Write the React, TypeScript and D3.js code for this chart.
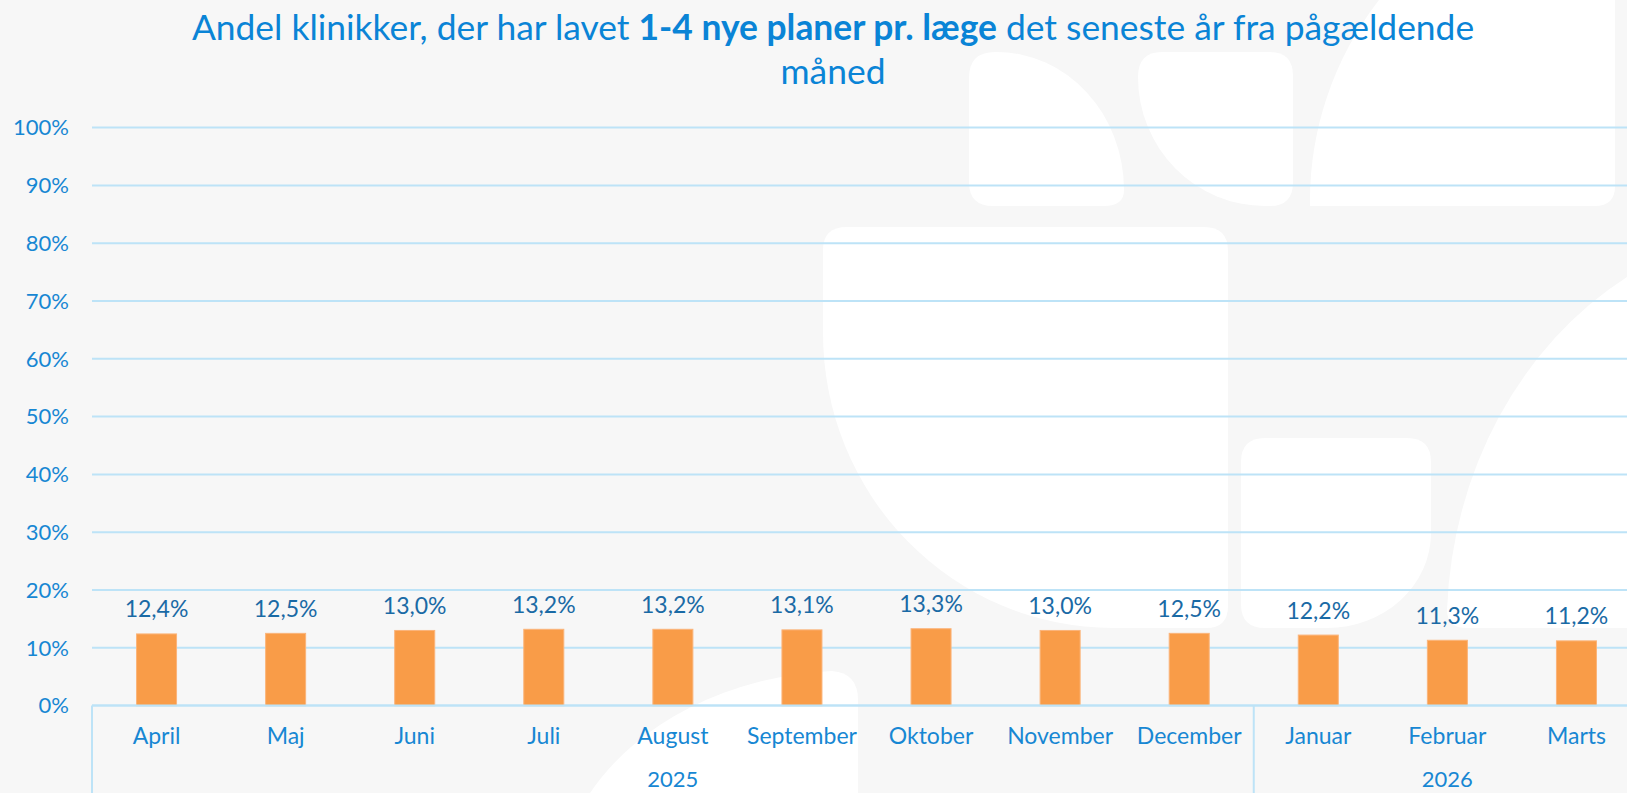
import React from "react";
import * as d3 from "d3";

const months = ["April", "Maj", "Juni", "Juli", "August", "September", "Oktober", "November", "December", "Januar", "Februar", "Marts"];
const values = [12.4, 12.5, 13.0, 13.2, 13.2, 13.1, 13.3, 13.0, 12.5, 12.2, 11.3, 11.2];
const yearLabels = ["2025", "2026"];
const yearCounts = [9, 3];
const yTicks = [0, 10, 20, 30, 40, 50, 60, 70, 80, 90, 100];
const titleLine1a = "Andel klinikker, der har lavet ";
const titleLine1b = "1-4 nye planer pr. læge";
const titleLine1c = " det seneste år fra pågældende";
const titleLine2 = "måned";

const W = 1627;
const H = 793;
const FONT = "Lato, 'Open Sans', sans-serif";

// decorative watermark shapes in the background
const watermark = [
  "M969,78 Q969,52 995,52 L997,52 A127 138 0 0 1 1124,190 Q1124,206 1104,206 L993,206 Q969,206 969,182 Z",
  "M1138,77 Q1138,52 1162,52 L1270,52 Q1293,52 1293,76 L1293,182 Q1293,206 1270,206 L1265,206 A127 129 0 0 1 1138,77 Z",
  "M1379,0 L1615,0 L1615,186 Q1615,206 1595,206 L1310,206 A334 330 0 0 1 1379,0 Z",
  "M823,250 Q823,227 847,227 L1204,227 Q1228,227 1228,251 L1228,606 Q1228,628 1206,628 L1113,628 A290 295 0 0 1 823,333 Z",
  "M1241,462 Q1241,438 1265,438 L1407,438 Q1431,438 1431,462 L1431,533 A104 95 0 0 1 1327,628 L1265,628 Q1241,628 1241,604 Z",
  "M1627,277 A355 402 0 0 0 1447,610 Q1447,628 1467,628 L1627,628 Z",
  "M590,793 A294 230 0 0 1 832,671 Q858,673 858,700 L858,793 Z",
];

export default function App() {
  const left = 92;
  const right = 1641;
  const y = d3.scaleLinear().domain([0, 100]).range([705.6, 127.6]);
  const xBar = d3.scaleBand<string>().domain(months).range([left, right]).paddingInner(0.69).paddingOuter(0.345);
  const xCat = d3.scaleBand<string>().domain(months).range([left, right]).padding(0);
  const step = xCat.step();
  const fmt = (v: number) => v.toFixed(1).replace(".", ",") + "%";

  const groups: { label: string; start: number; end: number }[] = [];
  let idx = 0;
  yearLabels.forEach((lab, i) => {
    const start = left + idx * step;
    idx += yearCounts[i];
    groups.push({ label: lab, start, end: left + idx * step });
  });

  const axisColor = "#BDE3F7";
  const labelColor = "#1787D3";
  const dataColor = "#1A6AA5";
  const y0 = y(0);

  return (
    <svg
      width={W}
      height={H}
      style={{ position: "absolute", left: 0, top: 0, display: "block" }}
      fontFamily={FONT}
    >
      <rect x={0} y={0} width={W} height={H} fill="#F7F7F7" />
      {watermark.map((d, i) => (
        <path key={i} d={d} fill="#FFFFFF" />
      ))}

      {/* title */}
      <text x={833} y={40} textAnchor="middle" fill="#0A84D6" fontSize={35.4}>
        <tspan>{titleLine1a}</tspan>
        <tspan fontWeight="bold">{titleLine1b}</tspan>
        <tspan>{titleLine1c}</tspan>
      </text>
      <text x={833} y={84} textAnchor="middle" fill="#0A84D6" fontSize={35.4}>
        {titleLine2}
      </text>

      {/* gridlines */}
      {yTicks.map((t) => (
        <line key={t} x1={left} x2={right} y1={y(t)} y2={y(t)} stroke={axisColor} strokeWidth={2} />
      ))}
      {/* y labels */}
      {yTicks.map((t) => (
        <text
          key={"l" + t}
          x={69}
          y={y(t)}
          dy="0.35em"
          textAnchor="end"
          fill={labelColor}
          fontSize={22}
        >
          {t + "%"}
        </text>
      ))}

      {/* bars */}
      {months.map((m, i) => (
        <rect
          key={m}
          x={xBar(m)}
          y={y(values[i])}
          width={xBar.bandwidth()}
          height={y0 - y(values[i])}
          fill="#F99C48"
          stroke="#FBB47A"
          strokeWidth={1}
        />
      ))}
      {/* data labels */}
      {months.map((m, i) => (
        <text
          key={"d" + m}
          x={(xCat(m) as number) + step / 2}
          y={y(values[i]) - 16.5}
          textAnchor="middle"
          fill={dataColor}
          fontSize={23}
        >
          {fmt(values[i])}
        </text>
      ))}

      {/* category axis */}
      <line x1={left} x2={right} y1={y0} y2={y0} stroke={axisColor} strokeWidth={2} />
      {groups.map((g) => (
        <line key={"s" + g.label} x1={g.start} x2={g.start} y1={y0} y2={H} stroke={axisColor} strokeWidth={2} />
      ))}
      {months.map((m) => (
        <text key={"x" + m} x={(xCat(m) as number) + step / 2} y={744} textAnchor="middle" fill={labelColor} fontSize={23}>
          {m}
        </text>
      ))}
      {groups.map((g) => (
        <text
          key={"g" + g.label}
          x={(g.start + g.end) / 2}
          y={787}
          textAnchor="middle"
          fill={labelColor}
          fontSize={22}
        >
          {g.label}
        </text>
      ))}
    </svg>
  );
}
